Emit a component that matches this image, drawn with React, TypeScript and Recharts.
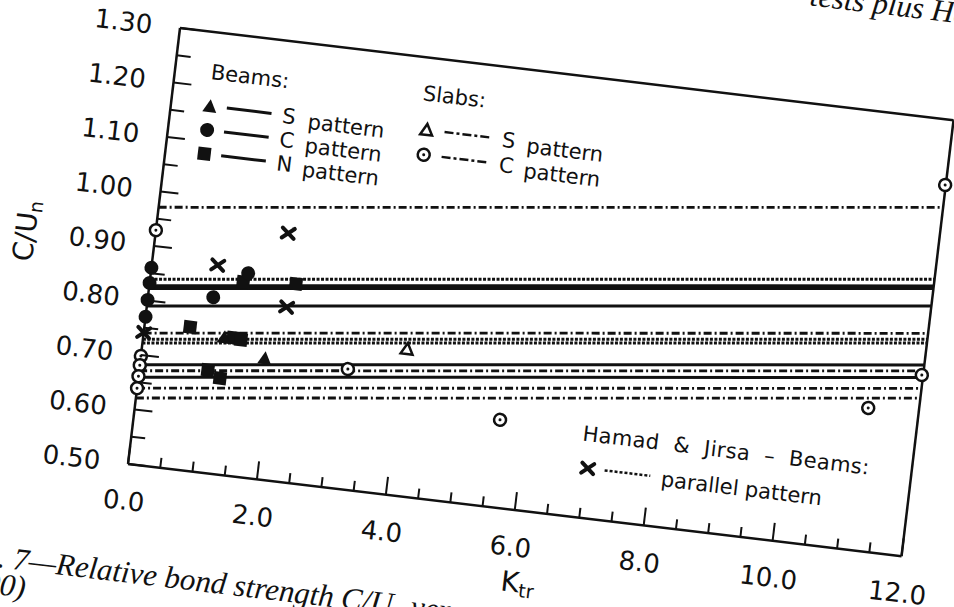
import React from "react";
import { ComposedChart, Line, Scatter, XAxis, YAxis } from "recharts";

// tick positions (Ktr every 0.5, C/Un every 0.05)
const ktrTicks = [0, 0.5, 1, 1.5, 2, 2.5, 3, 3.5, 4, 4.5, 5, 5.5, 6, 6.5, 7, 7.5, 8, 8.5, 9, 9.5, 10, 10.5, 11, 11.5, 12];
const ratioTicks = [0.5, 0.55, 0.6, 0.65, 0.7, 0.75, 0.8, 0.85, 0.9, 0.95, 1.0, 1.05, 1.1, 1.15, 1.2, 1.25, 1.3];

// test points
const beamsS = [
  { k: 1.24, c: 0.75 },
  { k: 1.9, c: 0.721 }
];
const beamsC = [
  { k: 0, c: 0.86 },
  { k: 0, c: 0.832 },
  { k: 0, c: 0.801 },
  { k: 0, c: 0.77 },
  { k: 1.0, c: 0.82 },
  { k: 1.49, c: 0.871 }
];
const beamsN = [
  { k: 0.7, c: 0.761 },
  { k: 1.38, c: 0.751 },
  { k: 1.5, c: 0.749 },
  { k: 1.05, c: 0.687 },
  { k: 1.25, c: 0.675 },
  { k: 1.43, c: 0.854 },
  { k: 2.24, c: 0.862 }
];
const slabsS = [{ k: 4.06, c: 0.768 }];
const slabsC = [
  { k: 0, c: 0.929 },
  { k: 0, c: 0.698 },
  { k: 0, c: 0.681 },
  { k: 0, c: 0.661 },
  { k: 0, c: 0.639 },
  { k: 3.19, c: 0.719 },
  { k: 5.61, c: 0.66 },
  { k: 11.22, c: 0.761 },
  { k: 11.98, c: 0.832 },
  { k: 11.99, c: 1.181 }
];
const hamad = [
  { k: 1.01, c: 0.879 },
  { k: 2.03, c: 0.952 },
  { k: 2.14, c: 0.818 },
  { k: 0, c: 0.741 }
];

// fitted lines: C/Un at Ktr = 0 and at Ktr = 12
const lineEnds = [0, 12];
const beamLines = [
  [0.827, 0.996],
  [0.822, 0.991],
  [0.79, 0.959],
  [0.682, 0.851],
  [0.659, 0.828]
];
const slabLines = [
  [0.971, 1.14],
  [0.74, 0.909],
  [0.671, 0.84],
  [0.639, 0.808],
  [0.621, 0.79]
];
const hamadLines = [
  [0.839, 1.008],
  [0.729, 0.898],
  [0.722, 0.891]
];

const toSeg = (ends: number[]) => lineEnds.map((k, i) => ({ k, c: ends[i] }));

const PW = 779;
const PH = 439;
const PL = 170;
const PT = 30;
const INK = "#111";
const FONT = "DejaVu Sans";
const SERIF = "Liberation Serif";

const isMajorX = (v: number) => Math.abs(v / 2 - Math.round(v / 2)) < 1e-6;
const isMajorY = (v: number) => Math.abs(v * 10 - Math.round(v * 10)) < 1e-6;

function BottomTick({ x, y, payload }: any) {
  const major = isMajorX(payload.value);
  return (
    <g>
      <line x1={x} y1={y} x2={x} y2={y - (major ? 18 : 10)} stroke={INK} strokeWidth={2} />
      {major && (
        <text x={x} y={y + 37} textAnchor="middle" dominantBaseline="central" fontFamily={FONT} fontSize={26} fill={INK}>
          {payload.value.toFixed(1)}
        </text>
      )}
    </g>
  );
}

function TopTick({ x, y, payload }: any) {
  const major = isMajorX(payload.value);
  return <line x1={x} y1={y} x2={x} y2={y + (major ? 18 : 9)} stroke={INK} strokeWidth={2} />;
}

function LeftTick({ x, y, payload }: any) {
  const major = isMajorY(payload.value);
  return (
    <g>
      <line x1={x} y1={y} x2={x + (major ? 18 : 14)} y2={y} stroke={INK} strokeWidth={2} />
      {major && (
        <text x={x - 28} y={y} textAnchor="end" dominantBaseline="central" fontFamily={FONT} fontSize={26} fill={INK}>
          {payload.value.toFixed(2)}
        </text>
      )}
    </g>
  );
}

function RightTick({ x, y, payload }: any) {
  const major = isMajorY(payload.value);
  return <line x1={x} y1={y} x2={x - (major ? 18 : 11)} y2={y} stroke={INK} strokeWidth={2} />;
}

const FilledTri = ({ cx, cy }: any) => <polygon points={`${cx},${cy - 7} ${cx - 7},${cy + 6} ${cx + 7},${cy + 6}`} fill={INK} />;
const FilledCircle = ({ cx, cy }: any) => <circle cx={cx} cy={cy} r={7} fill={INK} />;
const FilledSquare = ({ cx, cy }: any) => <rect x={cx - 6.5} y={cy - 6.5} width={13} height={13} fill={INK} />;
const OpenTri = ({ cx, cy }: any) => (
  <polygon points={`${cx},${cy - 6} ${cx - 6},${cy + 5} ${cx + 6},${cy + 5}`} fill="#fff" stroke={INK} strokeWidth={2.5} />
);
const OpenCircle = ({ cx, cy }: any) => (
  <g>
    <circle cx={cx} cy={cy} r={6} fill="#fff" stroke={INK} strokeWidth={2.5} />
    <circle cx={cx} cy={cy} r={1.5} fill={INK} />
  </g>
);
const Cross = ({ cx, cy }: any) => (
  <g stroke={INK} strokeWidth={4} strokeLinecap="round">
    <line x1={cx - 6} y1={cy - 5} x2={cx + 6} y2={cy + 5} />
    <line x1={cx - 6} y1={cy + 5} x2={cx + 6} y2={cy - 5} />
  </g>
);

const SOLID = "";
const DASHDOT = "8 3 2 3";
const DOTTED = "3 1.5";

function Legend() {
  const beamRows = [
    { v: 74, label: "S", Mark: FilledTri },
    { v: 98, label: "C", Mark: FilledCircle },
    { v: 122, label: "N", Mark: FilledSquare }
  ];
  const slabRows = [
    { v: 72, label: "S", Mark: OpenTri },
    { v: 97, label: "C", Mark: OpenCircle }
  ];
  return (
    <svg
      width={PW}
      height={PH}
      style={{ position: "absolute", left: PL, top: PT, overflow: "visible", pointerEvents: "none" }}
    >
      <g fontFamily={FONT} fontSize={21} fill={INK}>
        <text x={36} y={47}>Beams:</text>
        {beamRows.map(({ v, label, Mark }) => (
          <g key={label}>
            <Mark cx={39} cy={v} />
            <line x1={56} y1={v} x2={101} y2={v} stroke={INK} strokeWidth={3} />
            <text x={112} y={v + 8}>{label}</text>
            <text x={138} y={v + 11}>pattern</text>
          </g>
        ))}
        <text x={249} y={43}>Slabs:</text>
        {slabRows.map(({ v, label, Mark }) => (
          <g key={label}>
            <Mark cx={257} cy={v} />
            <line x1={275} y1={v} x2={320} y2={v} stroke={INK} strokeWidth={2.5} strokeDasharray="9 3 3 3" />
            <text x={333} y={v + 8}>{label}</text>
            <text x={358} y={v + 11}>pattern</text>
          </g>
        ))}
        <text x={448} y={362} wordSpacing={7} letterSpacing={0.4}>Hamad &amp; Jirsa – Beams:</text>
        <Cross cx={457} cy={389} />
        <line x1={474} y1={389} x2={520} y2={389} stroke={INK} strokeWidth={2.5} strokeDasharray="3 2" />
        <text x={531} y={398}>parallel pattern</text>
      </g>
      <text x={-129} y={PH / 2} transform={`rotate(-90 -129 ${PH / 2})`} textAnchor="middle" dominantBaseline="central" fontFamily={FONT} fontSize={28} fill={INK}>
        C/U<tspan fontSize={19} dy={7}>n</tspan>
      </text>
      <text x={401} y={PH + 72} textAnchor="middle" dominantBaseline="central" fontFamily={FONT} fontSize={28} fill={INK}>
        K<tspan fontSize={19} dy={7}>tr</tspan>
      </text>
      <g fontFamily={SERIF} fontStyle="italic" fontSize={31} fill={INK}>
        <text x={-161} y={557}>
          Fig. 7—Relative bond strength C/U<tspan fontSize={21} dy={5}>n</tspan>
          <tspan dy={-5}> versus K</tspan>
          <tspan fontSize={21} dy={5}>tr</tspan>
        </text>
        <text x={-87} y={584} textAnchor="end">1990)</text>
        <text x={622} y={-97}>tests plus Hamad &amp; Jirsa</text>
      </g>
    </svg>
  );
}

export default function App() {
  const lineProps = { dataKey: "c", dot: false, activeDot: false, isAnimationActive: false, stroke: INK, legendType: "none" as const };
  return (
    <div style={{ position: "fixed", left: 0, top: 0, width: 954, height: 607, overflow: "hidden", background: "#fff" }}>
      <div
        style={{
          position: "absolute",
          left: 180 - PL,
          top: 28 - PT,
          width: 980,
          height: 580,
          transform: "rotate(6.8deg)",
          transformOrigin: `${PL}px ${PT}px`
        }}
      >
        <ComposedChart width={980} height={580} margin={{ top: 20, right: 11, left: 0, bottom: 11 }}>
          <XAxis
            type="number"
            dataKey="k"
            domain={[0, 12]}
            ticks={ktrTicks}
            interval={0}
            height={100}
            tickSize={0}
            tickMargin={0}
            tick={<BottomTick />}
            axisLine={{ stroke: INK, strokeWidth: 2.5 }}
            tickLine={false}
          />
          <XAxis
            xAxisId="top"
            orientation="top"
            type="number"
            domain={[0, 12]}
            ticks={ktrTicks}
            interval={0}
            height={10}
            tickSize={0}
            tickMargin={0}
            tick={<TopTick />}
            axisLine={{ stroke: INK, strokeWidth: 2.5 }}
            tickLine={false}
          />
          <YAxis
            type="number"
            dataKey="c"
            domain={[0.5, 1.3]}
            ticks={ratioTicks}
            interval={0}
            width={170}
            tickSize={0}
            tickMargin={0}
            tick={<LeftTick />}
            axisLine={{ stroke: INK, strokeWidth: 2.5 }}
            tickLine={false}
          />
          <YAxis
            yAxisId="right"
            orientation="right"
            type="number"
            domain={[0.5, 1.3]}
            ticks={ratioTicks}
            interval={0}
            width={20}
            tickSize={0}
            tickMargin={0}
            tick={<RightTick />}
            axisLine={{ stroke: INK, strokeWidth: 2.5 }}
            tickLine={false}
          />
          {slabLines.map((ends, i) => (
            <Line key={`s${i}`} {...lineProps} data={toSeg(ends)} strokeWidth={2.8} strokeDasharray={DASHDOT} />
          ))}
          {hamadLines.map((ends, i) => (
            <Line key={`h${i}`} {...lineProps} data={toSeg(ends)} strokeWidth={3} strokeDasharray={DOTTED} />
          ))}
          {beamLines.map((ends, i) => (
            <Line key={`b${i}`} {...lineProps} data={toSeg(ends)} strokeWidth={3} strokeDasharray={SOLID} />
          ))}
          <Scatter data={slabsC} shape={(p: any) => <OpenCircle cx={p.cx} cy={p.cy} />} isAnimationActive={false} />
          <Scatter data={slabsS} shape={(p: any) => <OpenTri cx={p.cx} cy={p.cy} />} isAnimationActive={false} />
          <Scatter data={hamad} shape={(p: any) => <Cross cx={p.cx} cy={p.cy} />} isAnimationActive={false} />
          <Scatter data={beamsN} shape={(p: any) => <FilledSquare cx={p.cx} cy={p.cy} />} isAnimationActive={false} />
          <Scatter data={beamsC} shape={(p: any) => <FilledCircle cx={p.cx} cy={p.cy} />} isAnimationActive={false} />
          <Scatter data={beamsS} shape={(p: any) => <FilledTri cx={p.cx} cy={p.cy} />} isAnimationActive={false} />
        </ComposedChart>
        <Legend />
      </div>
    </div>
  );
}
